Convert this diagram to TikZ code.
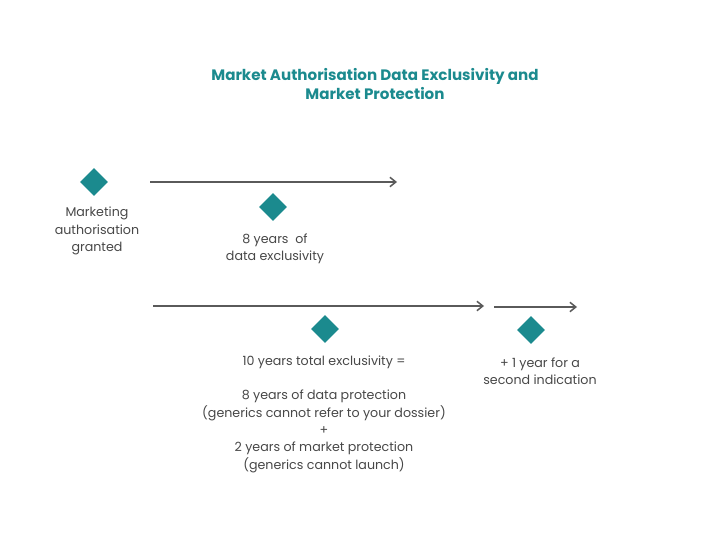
\documentclass[tikz,border=0pt]{standalone}
\usepackage{fontspec}
\setmainfont{Poppins}
\usepackage{tikz}
\usetikzlibrary{positioning, arrows.meta, shapes.geometric}

\definecolor{teal}{HTML}{1B8A8E}
\definecolor{textgray}{HTML}{474747}
\definecolor{linegray}{HTML}{5A5A5A}

\begin{document}
\begin{tikzpicture}[
			x=0.03cm, y=-0.03cm,
			% Styles
			marker/.style={diamond, fill=teal, inner sep=0pt, minimum width=0.84cm, minimum height=0.84cm},
			caption/.style={align=center, text=textgray, font=\fontsize{10.8}{14.8}\selectfont},
			headline/.style={align=center, text=teal, font=\fontsize{12.9}{15.5}\selectfont\bfseries},
			period/.style={-{Straight Barb[length=5pt, width=8pt]}, line width=1.3pt, draw=linegray}
			]
			
			% fixes the page size
			\useasboundingbox (0,0) rectangle (720,539);
			
			% --- Title ---
			\node[headline] (title) at (375,84) {Market Authorisation Data Exclusivity and\\Market Protection};
			
			% --- 1. Authorisation ---
			\node[marker] (granted) at (94,182) {};
			\node[caption] (grantedtext) at (97,231) {Marketing\\authorisation\\granted};
			
			% --- 2. Data exclusivity ---
			\coordinate (start1) at (150,182);
			\coordinate (end1) at (397,182);
			\draw[period] (start1) -- (end1);
			
			\node[marker] (dataexcl) at (273,207) {};
			\node[caption] (dataexcltext) at (275,249) {8 years~ of\\data exclusivity};
			
			% --- 3. Total exclusivity ---
			\coordinate (start2) at (153,306);
			\coordinate (end2) at (484,306);
			\draw[period] (start2) -- (end2);
			
			\node[marker] (total) at (325,329) {};
			\node[caption] (totaltext) at (324,414) {10 years total exclusivity =\\[14.8pt]
				8 years of data protection\\
				(generics cannot refer to your dossier)\\
				+\\
				2 years of market protection\\
				(generics cannot launch)};
			
			% --- 4. Extra year ---
			\coordinate (start3) at (494,307);
			\coordinate (end3) at (577,307);
			\draw[period] (start3) -- (end3);
			
			\node[marker] (extra) at (531,330) {};
			\node[caption] (extratext) at (540,371) {+ 1 year for a\\second indication};
			
		\end{tikzpicture}
\end{document}
